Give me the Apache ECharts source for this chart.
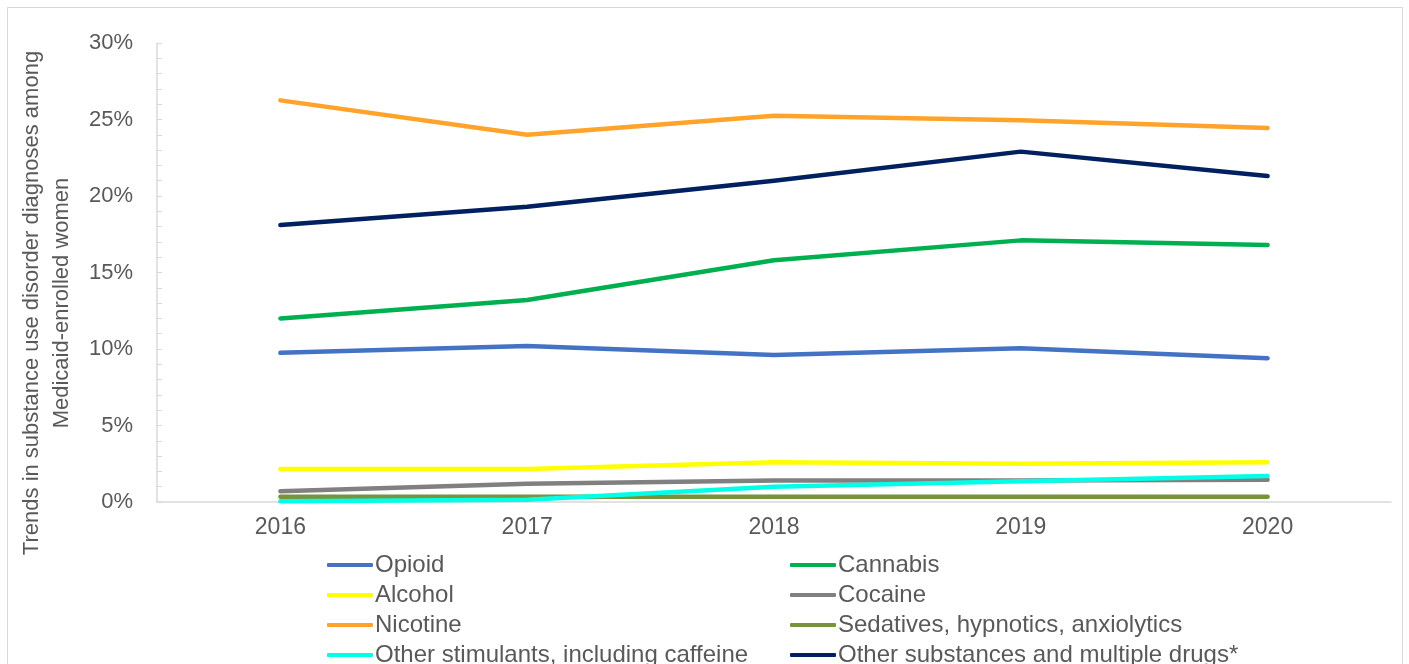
<!DOCTYPE html>
<html>
<head>
<meta charset="utf-8">
<script src="https://cdn.jsdelivr.net/npm/echarts@6/dist/echarts.min.js"></script>
<style>
html,body{margin:0;padding:0;background:#fff;}
#frame{position:absolute;left:7px;top:7px;width:1396px;height:700px;border:1.5px solid #d9d9d9;box-sizing:border-box;}
#chart{position:absolute;left:0;top:0;width:1409px;height:664px;}
</style>
</head>
<body>
<div id="frame"></div>
<div id="chart"></div>
<script>
const years = ['2016', '2017', '2018', '2019', '2020'];
const opioid = [9.75, 10.2, 9.6, 10.05, 9.4];
const cannabis = [12.0, 13.2, 15.8, 17.1, 16.8];
const alcohol = [2.15, 2.15, 2.6, 2.5, 2.6];
const cocaine = [0.7, 1.2, 1.4, 1.4, 1.45];
const nicotine = [26.25, 24.0, 25.25, 24.95, 24.45];
const sedatives = [0.35, 0.35, 0.35, 0.35, 0.35];
const otherStimulants = [0.05, 0.15, 1.0, 1.35, 1.7];
const otherSubstances = [18.1, 19.3, 21.0, 22.9, 21.3];
const seriesNames = ['Opioid', 'Cannabis', 'Alcohol', 'Cocaine', 'Nicotine',
  'Sedatives, hypnotics, anxiolytics', 'Other stimulants, including caffeine',
  'Other substances and multiple drugs*'];
const seriesData = [opioid, cannabis, alcohol, cocaine, nicotine, sedatives, otherStimulants, otherSubstances];
const seriesColors = ['#4472C4', '#00B050', '#FFFF00', '#808080', '#FFA32A', '#77933C', '#00FFE6', '#002060'];
const yTitle = 'Trends in substance use disorder diagnoses among\nMedicaid-enrolled women';

const chart = echarts.init(document.getElementById('chart'), null, {renderer: 'canvas'});
const font = 'Liberation Sans, Arial, sans-serif';
const legendCommon = {
  orient: 'horizontal',
  itemWidth: 46,
  itemHeight: 4,
  padding: 0,
  icon: 'roundRect',
  textStyle: {fontFamily: font, fontSize: 24, color: '#595959', lineHeight: 24, padding: [0, 0, 0, -3]},
  selectedMode: false
};
// legend slot for each series: column (0/1) and row (0..3)
const legendCols = [0, 1, 0, 1, 0, 1, 0, 1];
const legendRows = [0, 0, 1, 1, 2, 2, 3, 3];
const legends = seriesNames.map((n, i) => Object.assign({}, legendCommon, {
  left: legendCols[i] === 0 ? 327 : 790,
  top: 553 + legendRows[i] * 30,
  data: [n]
}));
chart.setOption({
  animation: false,
  backgroundColor: 'transparent',
  grid: {left: 157, right: 18, top: 43, bottom: 162},
  legend: legends,
  xAxis: {
    type: 'category',
    data: years,
    boundaryGap: true,
    axisLine: {lineStyle: {color: '#d9d9d9', width: 1.5}},
    axisTick: {show: false},
    axisLabel: {fontFamily: font, fontSize: 23, color: '#595959', margin: 14}
  },
  yAxis: {
    type: 'value',
    min: 0, max: 30, interval: 5,
    axisLine: {show: true, lineStyle: {color: '#d9d9d9', width: 1.5}},
    axisTick: {show: true, inside: true, length: 5, lineStyle: {color: '#d9d9d9'}},
    minorTick: {show: true, splitNumber: 5, length: 5, lineStyle: {color: '#d9d9d9'}},
    splitLine: {show: false},
    axisLabel: {fontFamily: font, fontSize: 22, color: '#595959', margin: 24, formatter: '{value}%'}
  },
  graphic: [{
    type: 'text',
    x: 47, y: 303,
    rotation: Math.PI / 2,
    style: {
      text: yTitle,
      fontFamily: font, fontSize: 22, lineHeight: 30,
      fill: '#595959', align: 'center', verticalAlign: 'middle'
    }
  }],
  series: seriesNames.map((n, i) => ({
    name: n,
    type: 'line',
    data: seriesData[i],
    symbol: 'none',
    color: seriesColors[i],
    lineStyle: {width: 4.5, color: seriesColors[i], cap: 'round', join: 'round'}
  }))
});
</script>
</body>
</html>
